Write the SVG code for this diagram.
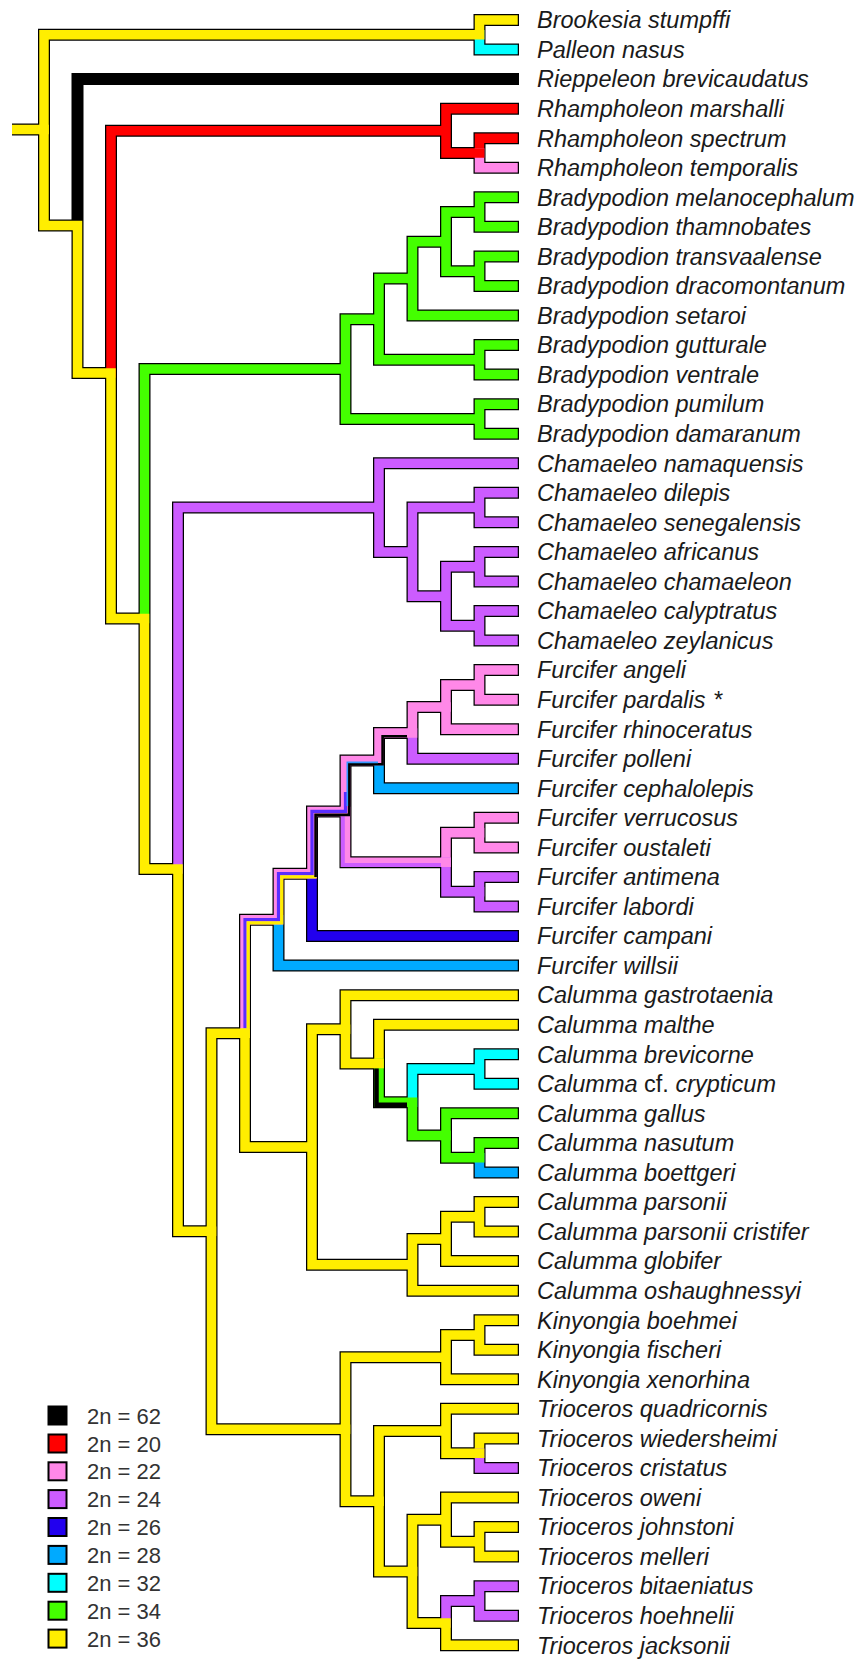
<svg xmlns="http://www.w3.org/2000/svg" width="854" height="1664" viewBox="0 0 854 1664">
<style>
.o{fill:none;stroke:#000;stroke-width:12;stroke-linecap:square;stroke-linejoin:miter}
.ob{fill:none;stroke:#000;stroke-width:12;stroke-linecap:butt}
.c{fill:none;stroke-width:9.5;stroke-linecap:square;stroke-linejoin:miter}
.cb{fill:none;stroke-width:9.5;stroke-linecap:butt}
.s{fill:none;stroke-linecap:butt;stroke-linejoin:miter}
.Y{stroke:#ffee00}.C{stroke:#00ffff}.K{stroke:#000}.R{stroke:#ff0000}.P{stroke:#ff88e8}.U{stroke:#cc5cff}.D{stroke:#2200ee}.B{stroke:#00aaff}.G{stroke:#44ff00}
.t{font-family:"Liberation Sans",Arial,sans-serif;font-style:italic;font-size:23.5px;fill:#1a1a1a}
.n{font-style:normal}
.lg{font-family:"Liberation Sans",Arial,sans-serif;font-size:22px;fill:#333}
.sq{stroke:#000;stroke-width:2}
</style>
<g id="branches">
<path class="o" d="M479.5 34.78V20H513M479.5 34.78V49.55H513M44 129.5V34.78H479.5M77.5 225.5V79.1H513M479.5 152.98V138.2H513M479.5 152.98V167.75H513M446 130.81V108.65H513M446 130.81V152.98H479.5M111 373V130.81H446M479.5 212.08V197.3H513M479.5 212.08V226.85H513M479.5 271.18V256.4H513M479.5 271.18V285.95H513M446 241.63V212.08H479.5M446 241.63V271.18H479.5M412.5 278.56V241.63H446M412.5 278.56V315.5H513M479.5 359.83V345.05H513M479.5 359.83V374.6H513M379 319.19V278.56H412.5M379 319.19V359.83H479.5M479.5 418.93V404.15H513M479.5 418.93V433.7H513M345.5 369.06V319.19H379M345.5 369.06V418.93H479.5M144.5 618.5V369.06H345.5M479.5 507.58V492.8H513M479.5 507.58V522.35H513M479.5 566.68V551.9H513M479.5 566.68V581.45H513M479.5 625.78V611H513M479.5 625.78V640.55H513M446 596.23V566.68H479.5M446 596.23V625.78H479.5M412.5 551.9V507.58H479.5M412.5 551.9V596.23H446M379 507.58V463.25H513M379 507.58V551.9H412.5M178 869V507.58H379M479.5 684.88V670.1H513M479.5 684.88V699.65H513M446 707.04V684.88H479.5M446 707.04V729.2H513M412.5 732.9V758.75H513M379 760.6V788.3H513M479.5 832.63V817.85H513M479.5 832.63V847.4H513M479.5 891.73V876.95H513M479.5 891.73V906.5H513M446 862.18V832.63H479.5M446 862.18V891.73H479.5M345.5 811.39V862.18H446M312 873.72V936.05H513M278.5 919.66V965.6H513M245 1033.36V919.66H278.5V873.72H312V811.39H345.5V760.6H379V732.9H412.5V707.04H446M345.5 1029.32V995.15H513M379 1063.49V1024.7H513M479.5 1069.03V1054.25H513M479.5 1069.03V1083.8H513M412.5 1102.27V1069.03H479.5M446 1135.51V1113.35H513M479.5 1157.68V1142.9H513M479.5 1157.68V1172.45H513M446 1135.51V1157.68H479.5M412.5 1102.27V1135.51H446M379 1063.49V1102.27H412.5M345.5 1029.32V1063.49H379M312 1147.06V1029.32H345.5M479.5 1216.78V1202H513M479.5 1216.78V1231.55H513M446 1238.94V1216.78H479.5M446 1238.94V1261.1H513M412.5 1264.8V1238.94H446M412.5 1264.8V1290.65H513M312 1147.06V1264.8H412.5M245 1033.36V1147.06H312M479.5 1334.98V1320.2H513M479.5 1334.98V1349.75H513M446 1357.14V1334.98H479.5M446 1357.14V1379.3H513M345.5 1429.17V1357.14H446M479.5 1453.18V1438.4H513M479.5 1453.18V1467.95H513M446 1431.02V1408.85H513M446 1431.02V1453.18H479.5M379 1501.2V1431.02H446M479.5 1541.83V1527.05H513M479.5 1541.83V1556.6H513M446 1519.67V1497.5H513M446 1519.67V1541.83H479.5M412.5 1571.38V1519.67H446M479.5 1600.93V1586.15H513M479.5 1600.93V1615.7H513M446 1623.09V1600.93H479.5M446 1623.09V1645.25H513M412.5 1571.38V1623.09H446M379 1501.2V1571.38H412.5M345.5 1429.17V1501.2H379M211.5 1231.27V1429.17H345.5M211.5 1231.27V1033.36H245M178 869V1231.27H211.5M144.5 618.5V869H178M111 373V618.5H144.5M77.5 225.5V373H111M44 129.5V225.5H77.5"/>
<path class="ob" d="M12 129.5H44"/>
<path class="c Y" d="M479.5 34.78V20H513"/>
<path class="c C" d="M479.5 34.78V49.55H513"/>
<path class="c Y" d="M44 129.5V34.78H479.5"/>
<path class="c K" d="M77.5 225.5V79.1H513"/>
<path class="c R" d="M479.5 152.98V138.2H513"/>
<path class="c P" d="M479.5 152.98V167.75H513"/>
<path class="c R" d="M446 130.81V108.65H513M446 130.81V152.98H479.5M111 373V130.81H446"/>
<path class="c G" d="M479.5 212.08V197.3H513M479.5 212.08V226.85H513M479.5 271.18V256.4H513M479.5 271.18V285.95H513M446 241.63V212.08H479.5M446 241.63V271.18H479.5M412.5 278.56V241.63H446M412.5 278.56V315.5H513M479.5 359.83V345.05H513M479.5 359.83V374.6H513M379 319.19V278.56H412.5M379 319.19V359.83H479.5M479.5 418.93V404.15H513M479.5 418.93V433.7H513M345.5 369.06V319.19H379M345.5 369.06V418.93H479.5M144.5 618.5V369.06H345.5"/>
<path class="c U" d="M479.5 507.58V492.8H513M479.5 507.58V522.35H513M479.5 566.68V551.9H513M479.5 566.68V581.45H513M479.5 625.78V611H513M479.5 625.78V640.55H513M446 596.23V566.68H479.5M446 596.23V625.78H479.5M412.5 551.9V507.58H479.5M412.5 551.9V596.23H446M379 507.58V463.25H513M379 507.58V551.9H412.5M178 869V507.58H379"/>
<path class="c P" d="M479.5 684.88V670.1H513M479.5 684.88V699.65H513M446 707.04V684.88H479.5M446 707.04V729.2H513"/>
<path class="c U" d="M412.5 732.9V758.75H513"/>
<path class="c B" d="M379 760.6V788.3H513"/>
<path class="c P" d="M479.5 832.63V817.85H513M479.5 832.63V847.4H513"/>
<path class="c U" d="M479.5 891.73V876.95H513M479.5 891.73V906.5H513"/>
<path class="c P" d="M446 862.18V832.63H479.5"/>
<path class="c U" d="M446 862.18V891.73H479.5"/>
<path class="c P" d="M345.5 811.39V862.18H446"/>
<path class="s U" stroke-width="4" d="M342.8 816V864.9H441"/>
<path class="c D" d="M312 873.72V936.05H513"/>
<path class="c B" d="M278.5 919.66V965.6H513"/>
<path class="c P" d="M245 1033.36V919.66H278.5V873.72H312V811.39H345.5V760.6H379V732.9H412.5V707.04H446"/>
<path class="s" stroke="#5a2dff" stroke-width="3.2" d="M245 1028.6V919.66H278.5V873.72H312V811.39H345.5V792"/>
<path class="s Y" stroke-width="3.2" d="M248.2 1028.6V922.86H281.7V876.92H316.5"/>
<path class="s K" stroke-width="2.6" d="M315.6 877V814.9H349.1V764.2H382.6V736.2H407"/>
<path class="s" stroke="#3399ff" stroke-width="1.6" d="M347.3 806V762.4H378"/>
<path class="c Y" d="M345.5 1029.32V995.15H513M379 1063.49V1024.7H513"/>
<path class="c C" d="M479.5 1069.03V1054.25H513M479.5 1069.03V1083.8H513M412.5 1102.27V1069.03H479.5"/>
<path class="c G" d="M446 1135.51V1113.35H513M479.5 1157.68V1142.9H513"/>
<path class="c B" d="M479.5 1157.68V1172.45H513"/>
<path class="c G" d="M446 1135.51V1157.68H479.5M412.5 1102.27V1135.51H446M379 1063.49V1102.27H412.5"/>
<path class="s K" stroke-width="4.5" d="M376.5 1068.3V1104.8H407"/>
<path class="c Y" d="M345.5 1029.32V1063.49H379M312 1147.06V1029.32H345.5M479.5 1216.78V1202H513M479.5 1216.78V1231.55H513M446 1238.94V1216.78H479.5M446 1238.94V1261.1H513M412.5 1264.8V1238.94H446M412.5 1264.8V1290.65H513M312 1147.06V1264.8H412.5M245 1033.36V1147.06H312"/>
<path class="c Y" d="M479.5 1334.98V1320.2H513M479.5 1334.98V1349.75H513M446 1357.14V1334.98H479.5M446 1357.14V1379.3H513M345.5 1429.17V1357.14H446M479.5 1453.18V1438.4H513"/>
<path class="c U" d="M479.5 1453.18V1467.95H513"/>
<path class="c Y" d="M446 1431.02V1408.85H513M446 1431.02V1453.18H479.5M379 1501.2V1431.02H446M479.5 1541.83V1527.05H513M479.5 1541.83V1556.6H513M446 1519.67V1497.5H513M446 1519.67V1541.83H479.5M412.5 1571.38V1519.67H446"/>
<path class="c U" d="M479.5 1600.93V1586.15H513M479.5 1600.93V1615.7H513M446 1623.09V1600.93H479.5"/>
<path class="c Y" d="M446 1623.09V1645.25H513M412.5 1571.38V1623.09H446M379 1501.2V1571.38H412.5M345.5 1429.17V1501.2H379M211.5 1231.27V1429.17H345.5"/>
<path class="c Y" d="M211.5 1231.27V1033.36H245M178 869V1231.27H211.5M144.5 618.5V869H178M111 373V618.5H144.5M77.5 225.5V373H111M44 129.5V225.5H77.5"/>
<path class="cb Y" d="M12 129.5H44"/>
</g>
<g id="tips" class="t">
<g id="tip-brookesia-stumpffi"><text x="537" y="28.3">Brookesia stumpffi</text></g>
<g id="tip-palleon-nasus"><text x="537" y="57.85">Palleon nasus</text></g>
<g id="tip-rieppeleon-brevicaudatus"><text x="537" y="87.4">Rieppeleon brevicaudatus</text></g>
<g id="tip-rhampholeon-marshalli"><text x="537" y="116.95">Rhampholeon marshalli</text></g>
<g id="tip-rhampholeon-spectrum"><text x="537" y="146.5">Rhampholeon spectrum</text></g>
<g id="tip-rhampholeon-temporalis"><text x="537" y="176.05">Rhampholeon temporalis</text></g>
<g id="tip-bradypodion-melanocephalum"><text x="537" y="205.6">Bradypodion melanocephalum</text></g>
<g id="tip-bradypodion-thamnobates"><text x="537" y="235.15">Bradypodion thamnobates</text></g>
<g id="tip-bradypodion-transvaalense"><text x="537" y="264.7">Bradypodion transvaalense</text></g>
<g id="tip-bradypodion-dracomontanum"><text x="537" y="294.25">Bradypodion dracomontanum</text></g>
<g id="tip-bradypodion-setaroi"><text x="537" y="323.8">Bradypodion setaroi</text></g>
<g id="tip-bradypodion-gutturale"><text x="537" y="353.35">Bradypodion gutturale</text></g>
<g id="tip-bradypodion-ventrale"><text x="537" y="382.9">Bradypodion ventrale</text></g>
<g id="tip-bradypodion-pumilum"><text x="537" y="412.45">Bradypodion pumilum</text></g>
<g id="tip-bradypodion-damaranum"><text x="537" y="442">Bradypodion damaranum</text></g>
<g id="tip-chamaeleo-namaquensis"><text x="537" y="471.55">Chamaeleo namaquensis</text></g>
<g id="tip-chamaeleo-dilepis"><text x="537" y="501.1">Chamaeleo dilepis</text></g>
<g id="tip-chamaeleo-senegalensis"><text x="537" y="530.65">Chamaeleo senegalensis</text></g>
<g id="tip-chamaeleo-africanus"><text x="537" y="560.2">Chamaeleo africanus</text></g>
<g id="tip-chamaeleo-chamaeleon"><text x="537" y="589.75">Chamaeleo chamaeleon</text></g>
<g id="tip-chamaeleo-calyptratus"><text x="537" y="619.3">Chamaeleo calyptratus</text></g>
<g id="tip-chamaeleo-zeylanicus"><text x="537" y="648.85">Chamaeleo zeylanicus</text></g>
<g id="tip-furcifer-angeli"><text x="537" y="678.4">Furcifer angeli</text></g>
<g id="tip-furcifer-pardalis"><text x="537" y="707.95">Furcifer pardalis<tspan class="n" x="714">*</tspan></text></g>
<g id="tip-furcifer-rhinoceratus"><text x="537" y="737.5">Furcifer rhinoceratus</text></g>
<g id="tip-furcifer-polleni"><text x="537" y="767.05">Furcifer polleni</text></g>
<g id="tip-furcifer-cephalolepis"><text x="537" y="796.6">Furcifer cephalolepis</text></g>
<g id="tip-furcifer-verrucosus"><text x="537" y="826.15">Furcifer verrucosus</text></g>
<g id="tip-furcifer-oustaleti"><text x="537" y="855.7">Furcifer oustaleti</text></g>
<g id="tip-furcifer-antimena"><text x="537" y="885.25">Furcifer antimena</text></g>
<g id="tip-furcifer-labordi"><text x="537" y="914.8">Furcifer labordi</text></g>
<g id="tip-furcifer-campani"><text x="537" y="944.35">Furcifer campani</text></g>
<g id="tip-furcifer-willsii"><text x="537" y="973.9">Furcifer willsii</text></g>
<g id="tip-calumma-gastrotaenia"><text x="537" y="1003.45">Calumma gastrotaenia</text></g>
<g id="tip-calumma-malthe"><text x="537" y="1033">Calumma malthe</text></g>
<g id="tip-calumma-brevicorne"><text x="537" y="1062.55">Calumma brevicorne</text></g>
<g id="tip-calumma-crypticum"><text x="537" y="1092.1">Calumma <tspan class="n">cf.</tspan> crypticum</text></g>
<g id="tip-calumma-gallus"><text x="537" y="1121.65">Calumma gallus</text></g>
<g id="tip-calumma-nasutum"><text x="537" y="1151.2">Calumma nasutum</text></g>
<g id="tip-calumma-boettgeri"><text x="537" y="1180.75">Calumma boettgeri</text></g>
<g id="tip-calumma-parsonii"><text x="537" y="1210.3">Calumma parsonii</text></g>
<g id="tip-calumma-parsonii-cristifer"><text x="537" y="1239.85">Calumma parsonii cristifer</text></g>
<g id="tip-calumma-globifer"><text x="537" y="1269.4">Calumma globifer</text></g>
<g id="tip-calumma-oshaughnessyi"><text x="537" y="1298.95">Calumma oshaughnessyi</text></g>
<g id="tip-kinyongia-boehmei"><text x="537" y="1328.5">Kinyongia boehmei</text></g>
<g id="tip-kinyongia-fischeri"><text x="537" y="1358.05">Kinyongia fischeri</text></g>
<g id="tip-kinyongia-xenorhina"><text x="537" y="1387.6">Kinyongia xenorhina</text></g>
<g id="tip-trioceros-quadricornis"><text x="537" y="1417.15">Trioceros quadricornis</text></g>
<g id="tip-trioceros-wiedersheimi"><text x="537" y="1446.7">Trioceros wiedersheimi</text></g>
<g id="tip-trioceros-cristatus"><text x="537" y="1476.25">Trioceros cristatus</text></g>
<g id="tip-trioceros-oweni"><text x="537" y="1505.8">Trioceros oweni</text></g>
<g id="tip-trioceros-johnstoni"><text x="537" y="1535.35">Trioceros johnstoni</text></g>
<g id="tip-trioceros-melleri"><text x="537" y="1564.9">Trioceros melleri</text></g>
<g id="tip-trioceros-bitaeniatus"><text x="537" y="1594.45">Trioceros bitaeniatus</text></g>
<g id="tip-trioceros-hoehnelii"><text x="537" y="1624">Trioceros hoehnelii</text></g>
<g id="tip-trioceros-jacksonii"><text x="537" y="1653.55">Trioceros jacksonii</text></g>
</g>
<g id="legend">
<g id="lg-62"><rect class="sq" x="48.5" y="1406.5" width="18" height="18" fill="#000"/><text class="lg" x="87" y="1423.5">2n = 62</text></g>
<g id="lg-20"><rect class="sq" x="48.5" y="1434.5" width="18" height="18" fill="#ff0000"/><text class="lg" x="87" y="1451.5">2n = 20</text></g>
<g id="lg-22"><rect class="sq" x="48.5" y="1462.3" width="18" height="18" fill="#ff88e8"/><text class="lg" x="87" y="1479.3">2n = 22</text></g>
<g id="lg-24"><rect class="sq" x="48.5" y="1490.1" width="18" height="18" fill="#cc5cff"/><text class="lg" x="87" y="1507.1">2n = 24</text></g>
<g id="lg-26"><rect class="sq" x="48.5" y="1518" width="18" height="18" fill="#2200ee"/><text class="lg" x="87" y="1535">2n = 26</text></g>
<g id="lg-28"><rect class="sq" x="48.5" y="1545.9" width="18" height="18" fill="#00aaff"/><text class="lg" x="87" y="1562.9">2n = 28</text></g>
<g id="lg-32"><rect class="sq" x="48.5" y="1573.8" width="18" height="18" fill="#00ffff"/><text class="lg" x="87" y="1590.8">2n = 32</text></g>
<g id="lg-34"><rect class="sq" x="48.5" y="1601.7" width="18" height="18" fill="#44ff00"/><text class="lg" x="87" y="1618.7">2n = 34</text></g>
<g id="lg-36"><rect class="sq" x="48.5" y="1629.6" width="18" height="18" fill="#ffee00"/><text class="lg" x="87" y="1646.6">2n = 36</text></g>
</g>
</svg>
